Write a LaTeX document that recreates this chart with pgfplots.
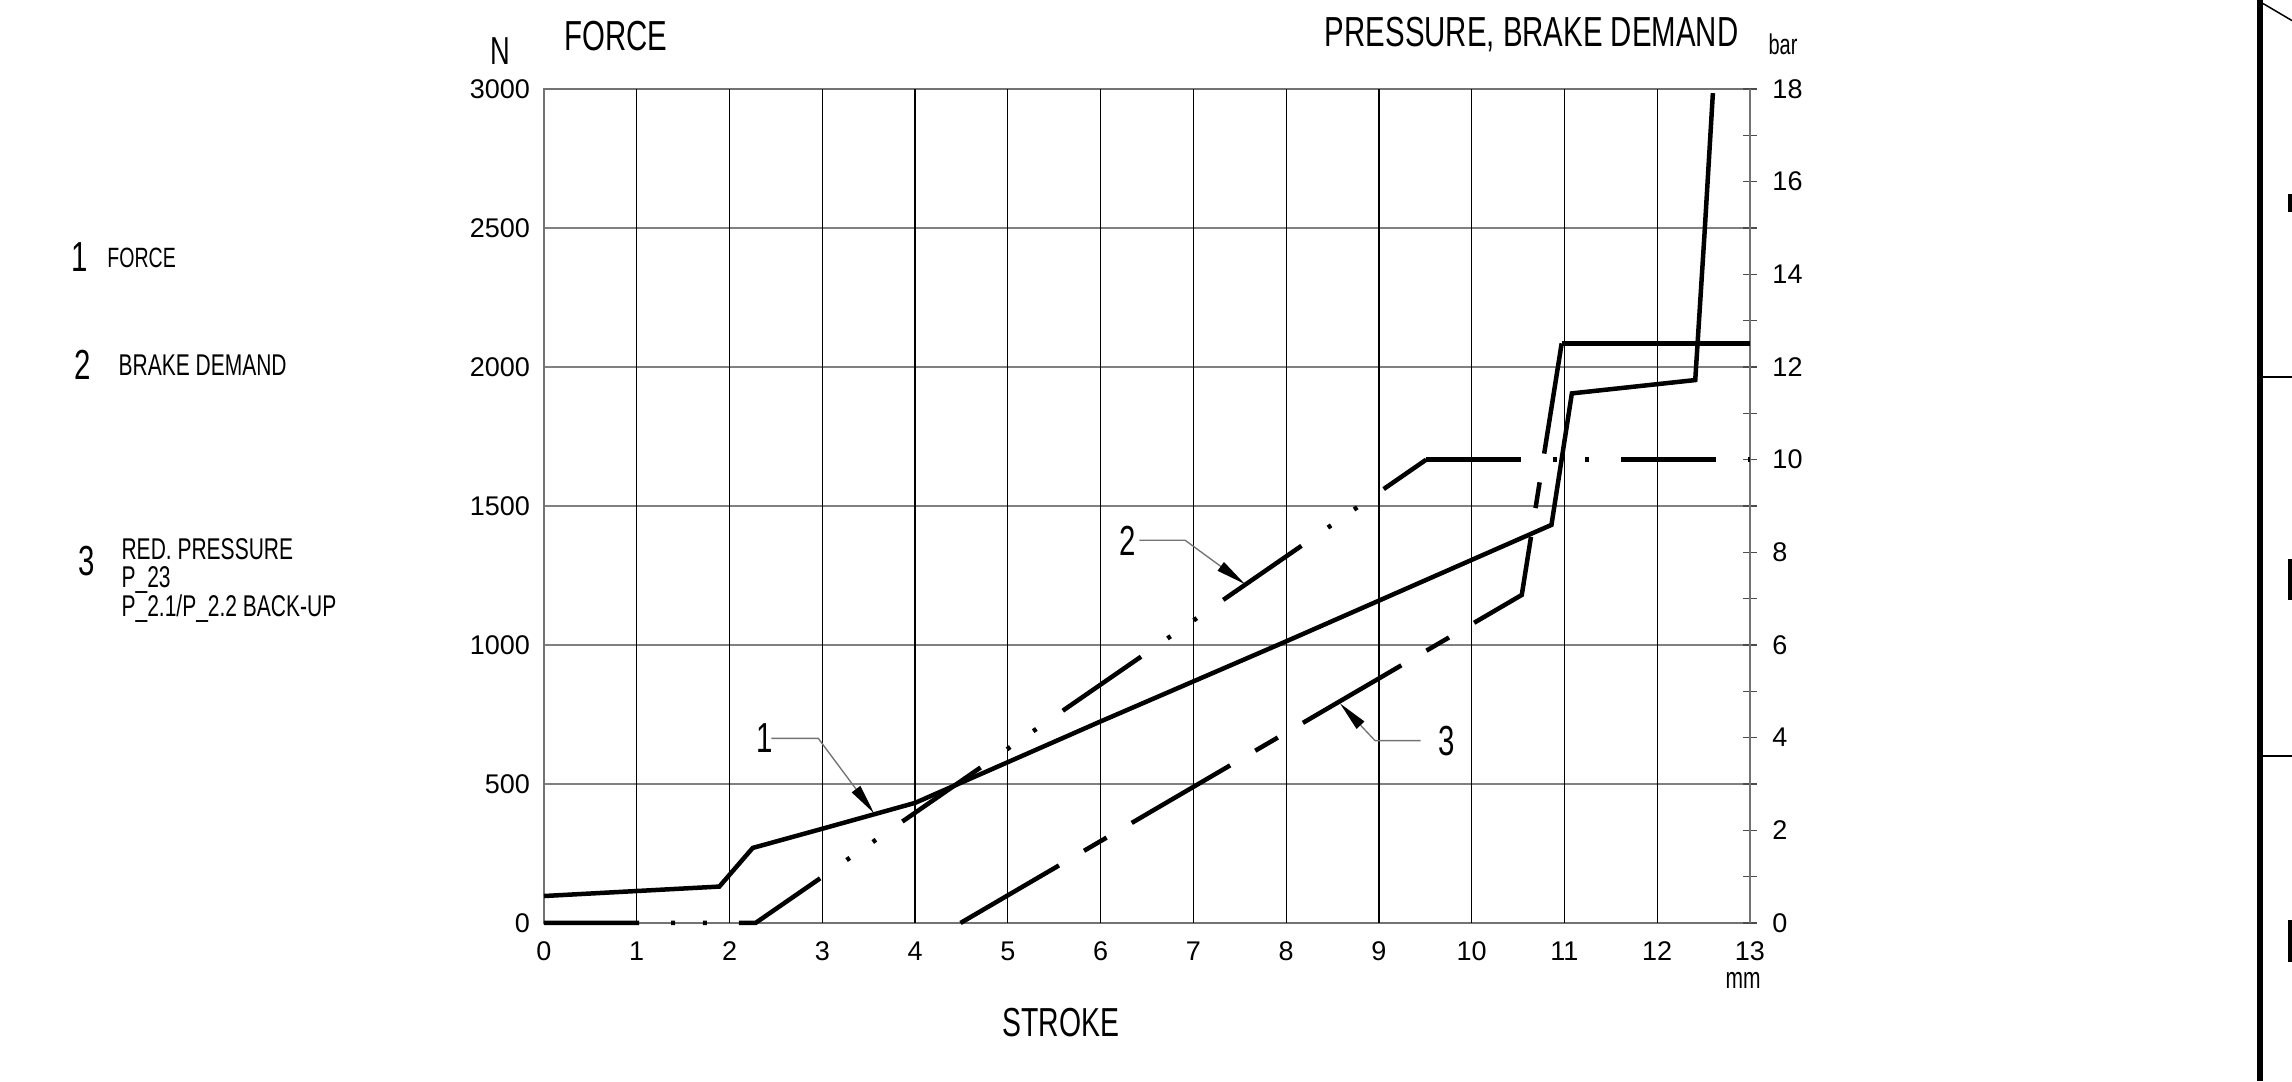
\documentclass[border=0pt]{standalone}
\usepackage{pgfplots}
\pgfplotsset{compat=1.18}
\usetikzlibrary{arrows.meta}
\usepackage{fontspec}
\setmainfont{Liberation Sans}
\newfontfamily\cad{Liberation Sans}[FakeStretch=0.7]
\newcommand\fs[1]{\fontsize{#1}{#1}\selectfont}

\begin{document}
\begin{tikzpicture}
\useasboundingbox (-181.33pt,-52.67pt) rectangle (582.67pt,307.67pt);
% ---------------- left axis: force (N) ----------------
\begin{axis}[
  at={(0pt,0pt)}, anchor=south west, scale only axis,
  width=402pt, height=278pt,
  xmin=0, xmax=13, ymin=0, ymax=3000,
  clip=false,
  axis line style={draw=black!55, line width=0.5pt},
  xtick={0,...,13}, ytick={0,500,...,3000},
  tick style={draw=none},
  ymajorgrids, major grid style={draw=black!50, line width=0.55pt},
  extra x ticks={1,...,12}, extra x tick labels={},
  extra x tick style={xmajorgrids, ymajorgrids=false, major grid style={draw=black, line width=0.42pt}},
  /pgf/number format/assume math mode=true,
  /pgf/number format/1000 sep={},
  scaled ticks=false,
  ticklabel style={font=\fs{9}},
  xticklabel style={inner sep=0pt, yshift=-6pt},
  yticklabel style={inner sep=0pt, xshift=-4.5pt},
]
\addplot[black, line width=1.5pt, mark=none] coordinates {
  (0,97) (1.89,131) (2.25,270) (3,339) (4,432) (6,725) (8,1013)
  (10.86,1432) (11.08,1905) (12.41,1953) (12.51,2480) (12.60,2985)
};
% leader labels
\draw[black!55, line width=0.45pt, -{Triangle[length=10pt,width=3.5pt,color=black]}]
  (axis cs:2.451,664) -- (axis cs:2.957,664) -- (axis cs:3.557,395);
\node[font=\cad\fs{14}, inner sep=0pt] at (axis cs:2.382,665) {1};
\draw[black!55, line width=0.45pt, -{Triangle[length=10pt,width=3.5pt,color=black]}]
  (axis cs:6.417,1377) -- (axis cs:6.910,1377) -- (axis cs:7.556,1219);
\node[font=\cad\fs{14}, inner sep=0pt] at (axis cs:6.295,1374) {2};
\draw[black!55, line width=0.45pt, -{Triangle[length=10pt,width=3.5pt,color=black]}]
  (axis cs:9.450,656) -- (axis cs:8.958,656) -- (axis cs:8.580,790);
\node[font=\cad\fs{14}, inner sep=0pt] at (axis cs:9.734,655) {3};
\end{axis}
% ---------------- right axis: pressure (bar) ----------------
\begin{axis}[
  at={(0pt,0pt)}, anchor=south west, scale only axis,
  width=402pt, height=278pt,
  xmin=0, xmax=13, ymin=0, ymax=18,
  clip=false,
  axis x line=none, axis y line*=right,
  axis line style={draw=black!55, line width=0.5pt, -},
  ytick={0,...,18},
  yticklabels={0,,2,,4,,6,,8,,10,,12,,14,,16,,18},
  tick align=center, major tick length=4.6pt,
  tick style={draw=black!70, line width=0.5pt},
  /pgf/number format/assume math mode=true,
  ticklabel style={font=\fs{9}},
  yticklabel style={inner sep=0pt, xshift=5pt},
]
\addplot[black, line width=1.5pt, mark=none,
  dash pattern=on 31.7pt off 10.7pt on 1.3pt off 9.3pt on 1.3pt off 10.7pt]
  coordinates {(0,0) (2.28,0) (9.51,10)};
\addplot[black, line width=1.5pt, mark=none,
  dash pattern=on 31.7pt off 10.7pt on 1.3pt off 9.3pt on 1.3pt off 10.7pt]
  coordinates {(9.51,10) (13,10)};
\addplot[black, line width=1.5pt, mark=none,
  dash pattern=on 38pt off 9.7pt on 8.7pt off 9.7pt]
  coordinates {(4.49,0) (10.54,7.08) (10.97,12.51)};
\addplot[black, line width=1.5pt, mark=none]
  coordinates {(10.97,12.51) (13,12.51)};
\end{axis}
% ---------------- titles ----------------
\node[font=\cad\fs{13}, inner sep=0pt] at (-14.7pt,290.7pt) {N};
\node[font=\cad\fs{14}, anchor=base west, inner sep=0pt] at (6.7pt,290.8pt) {FORCE};
\node[font=\cad\fs{14}, anchor=base east, inner sep=0pt] at (398.3pt,292.3pt) {PRESSURE, BRAKE DEMAND};
\node[font=\cad\fs{9.5}, inner sep=0pt] at (413pt,293pt) {bar};
\node[font=\cad\fs{10}, inner sep=0pt] at (399.7pt,-19.3pt) {mm};
\node[font=\cad\fs{13.5}, inner sep=0pt] at (172.3pt,-33.3pt) {STROKE};
% ---------------- legend text ----------------
\node[font=\cad\fs{14}, inner sep=0pt] at (-154.7pt,222pt) {1};
\node[font=\cad\fs{9.3}, anchor=west, inner sep=0pt] at (-145.7pt,221.7pt) {FORCE};
\node[font=\cad\fs{14}, inner sep=0pt] at (-153.7pt,186pt) {2};
\node[font=\cad\fs{10}, anchor=west, inner sep=0pt] at (-142pt,186pt) {BRAKE DEMAND};
\node[font=\cad\fs{14}, inner sep=0pt] at (-152.3pt,120.8pt) {3};
\node[font=\cad\fs{10}, anchor=base west, inner sep=0pt] at (-141pt,121.3pt) {RED. PRESSURE};
\node[font=\cad\fs{10}, anchor=base west, inner sep=0pt] at (-141pt,111.8pt) {P\_23};
\node[font=\cad\fs{10}, anchor=base west, inner sep=0pt] at (-141pt,102.3pt) {P\_2.1/P\_2.2 BACK-UP};
% ---------------- drawing frame at right ----------------
\draw[line width=2pt] (572.1pt,-52.67pt) -- (572.1pt,307.67pt);
\draw[line width=0.6pt] (573pt,182pt) -- (582.67pt,182pt);
\draw[line width=0.6pt] (573pt,55.7pt) -- (582.67pt,55.7pt);
\draw[line width=0.5pt] (573pt,306.5pt) -- (582.67pt,300.8pt);
\fill (581.3pt,243pt) rectangle (582.67pt,237pt);
\fill (581.3pt,121.3pt) rectangle (582.67pt,107.7pt);
\fill (581.3pt,1pt) rectangle (582.67pt,-13pt);
\end{tikzpicture}
\end{document}
